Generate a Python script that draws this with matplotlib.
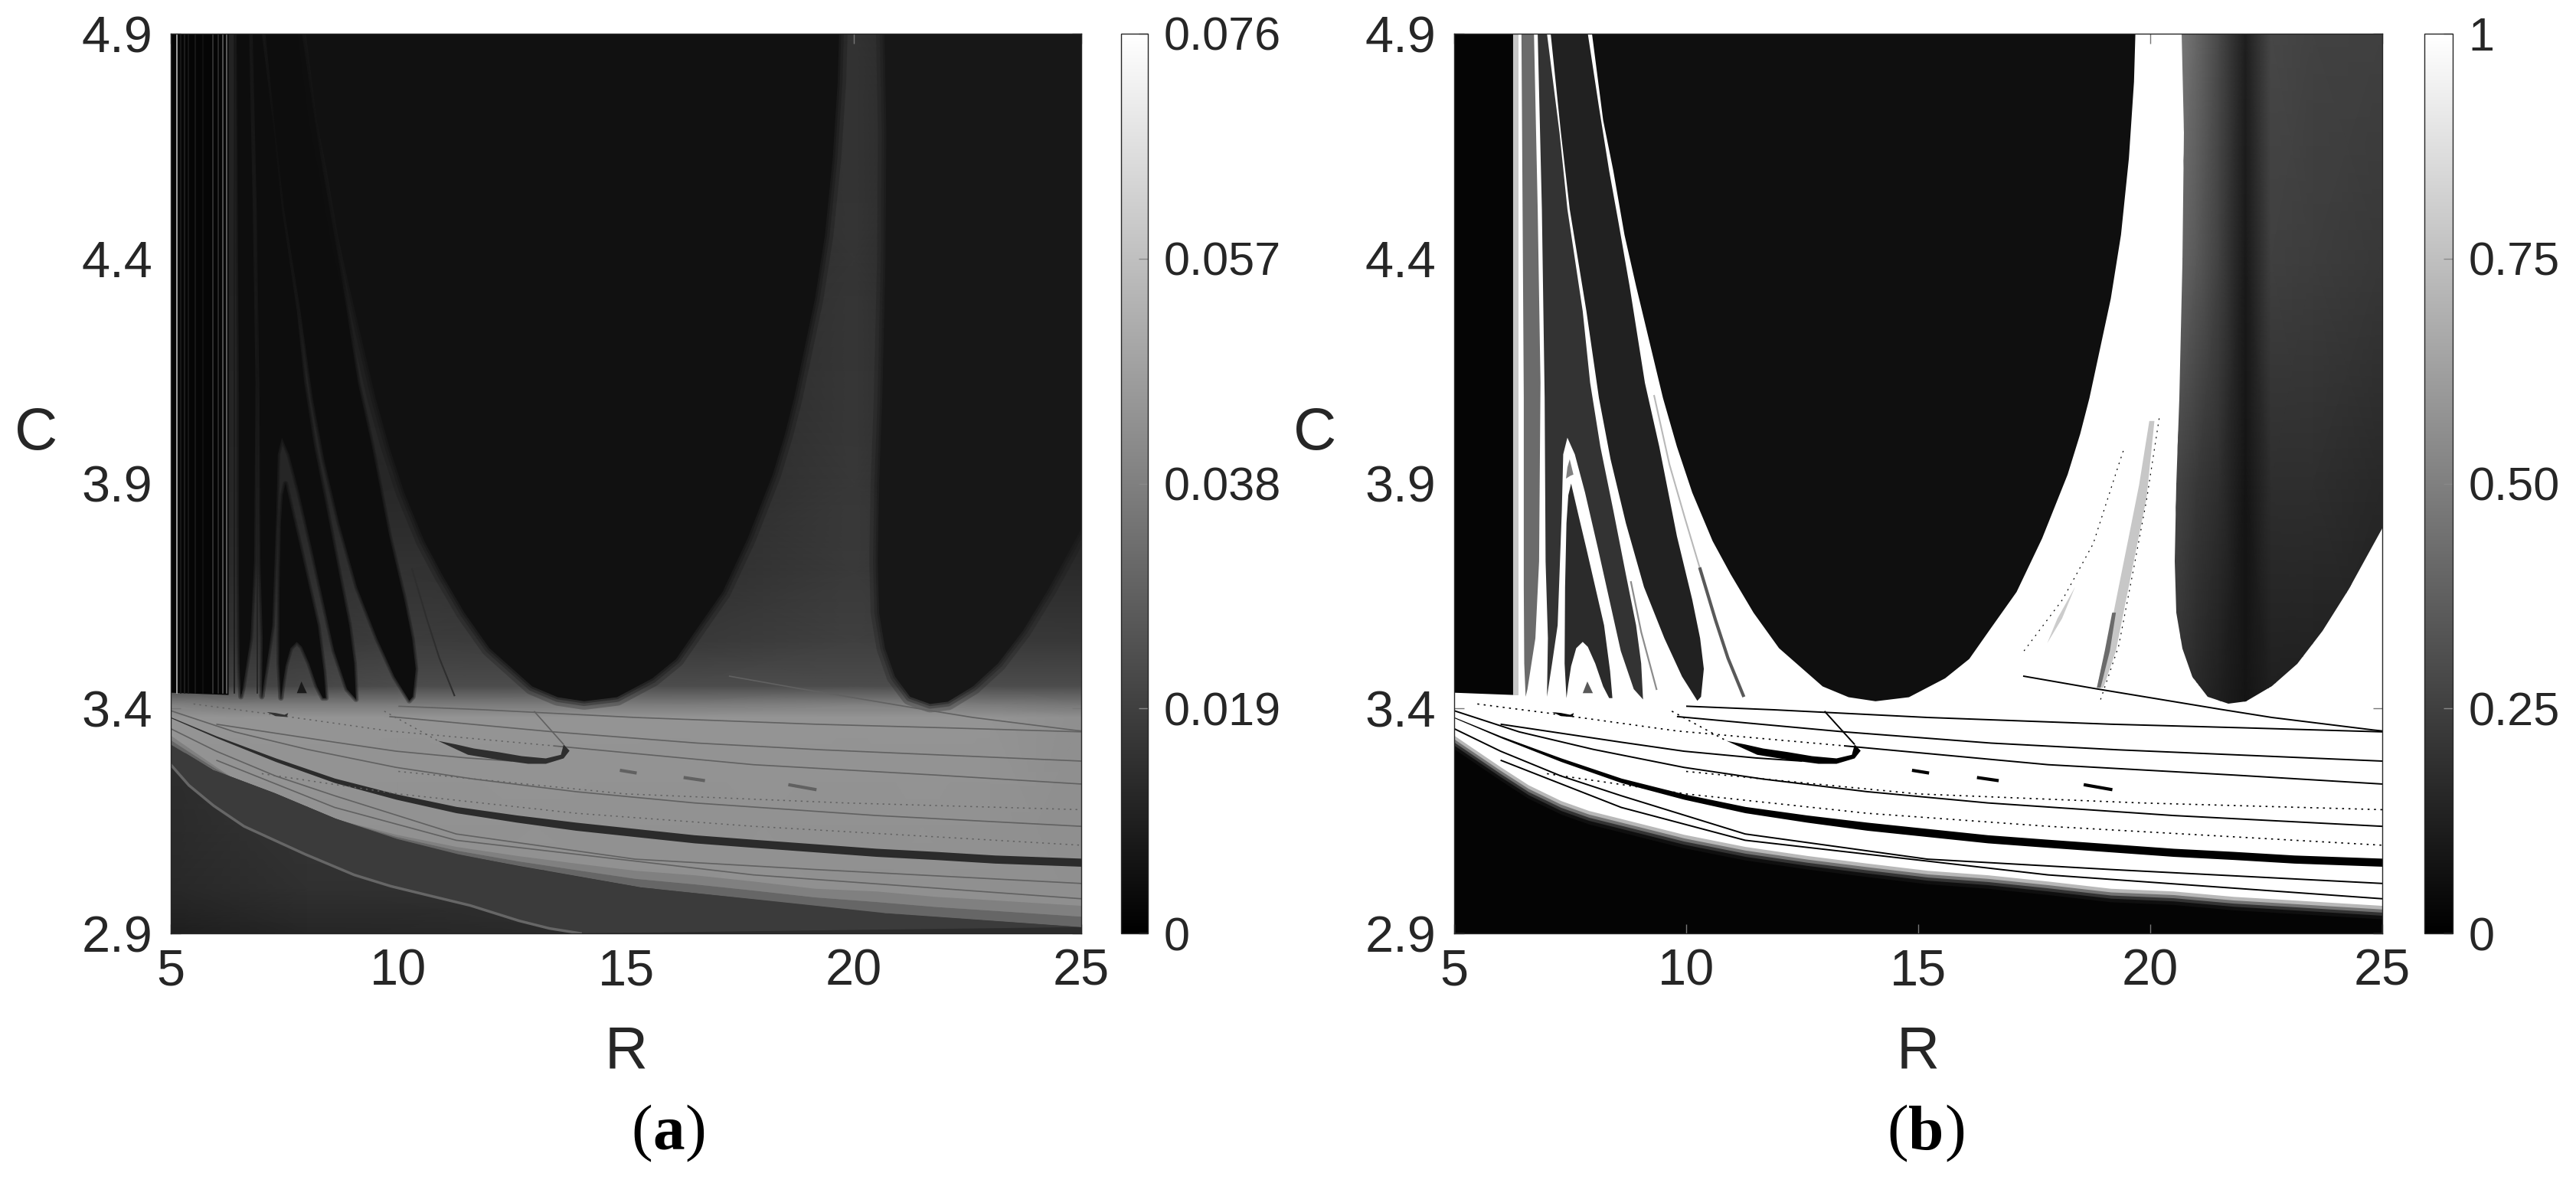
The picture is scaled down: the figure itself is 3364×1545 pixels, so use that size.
import numpy as np
import matplotlib
matplotlib.use("Agg")
import matplotlib.pyplot as plt
from matplotlib.cm import ScalarMappable
from matplotlib.colors import Normalize
from matplotlib.patches import Polygon

plt.rcParams['font.family'] = ['Liberation Sans', 'DejaVu Sans']
TXT = '#262626'

# ---- tick labels
X_TICKS = [5, 10, 15, 20, 25]
Y_TICKS = [2.9, 3.4, 3.9, 4.4, 4.9]
CB_A_TICKS = [0, 0.019, 0.038, 0.057, 0.076]
CB_A_LABELS = ['0', '0.019', '0.038', '0.057', '0.076']
CB_B_TICKS = [0, 0.25, 0.5, 0.75, 1]
CB_B_LABELS = ['0', '0.25', '0.50', '0.75', '1']

# ---- regions, (R, C) outlines
BIG_U = [(7.97, 4.9), (8.21, 4.708), (8.43, 4.595), (8.67, 4.453), (8.92, 4.339), (9.5, 4.09),
         (9.8, 3.982), (10.13, 3.88), (10.57, 3.772), (10.96, 3.698), (11.45, 3.613), (12.0, 3.534),
         (12.94, 3.449), (13.5, 3.425), (14.08, 3.416), (14.8, 3.425), (15.58, 3.467), (16.1, 3.51),
         (16.57, 3.579), (17.12, 3.659), (17.67, 3.778), (18.22, 3.92), (18.49, 4.01), (18.69, 4.09),
         (19.15, 4.311), (19.37, 4.453), (19.54, 4.623), (19.65, 4.793), (19.68, 4.9)]
RIGHT_WEDGE = [(20.68, 4.9), (20.72, 4.68), (20.7, 4.39), (20.63, 4.09), (20.56, 3.897), (20.53, 3.727),
               (20.56, 3.613), (20.69, 3.534), (20.91, 3.471), (21.24, 3.426), (21.68, 3.41), (22.07, 3.415),
               (22.62, 3.449), (23.17, 3.5), (23.72, 3.573), (24.27, 3.664), (24.82, 3.766), (25, 3.8), (25, 4.9)]
LEFT_BLOCK = [(5, 4.9), (6.27, 4.9), (6.27, 3.43), (5, 3.435)]
NOISY_STRIP = [(6.27, 4.9), (6.38, 4.9), (6.38, 3.43), (6.27, 3.43)]
WEDGE_1 = [(6.45, 4.9), (6.5, 4.09), (6.5, 3.67), (6.51, 3.5), (6.54, 3.426), (6.58, 3.443), (6.75, 3.556),
           (6.83, 3.727), (6.86, 4.124), (6.8, 4.51), (6.72, 4.9)]
WEDGE_2 = [(6.8, 4.9), (6.89, 4.51), (6.95, 4.09), (6.97, 3.727), (7.02, 3.556), (7.0, 3.426), (7.11, 3.5),
           (7.23, 3.585), (7.28, 3.727), (7.32, 3.84), (7.35, 3.965), (7.44, 4.002), (7.6, 3.965), (7.82, 3.88),
           (8.1, 3.755), (8.37, 3.63), (8.59, 3.528), (8.87, 3.443), (9.07, 3.42), (9.03, 3.5), (8.92, 3.585),
           (8.7, 3.698), (8.43, 3.84), (8.15, 3.982), (7.93, 4.124), (7.77, 4.283), (7.44, 4.51), (7.27, 4.68), (7.0, 4.9)]
WEDGE_3 = [(7.52, 3.9), (7.68, 3.829), (7.85, 3.755), (8.04, 3.67), (8.23, 3.585), (8.36, 3.483), (8.41, 3.423),
           (8.34, 3.423), (8.21, 3.449), (8.04, 3.5), (7.88, 3.537), (7.77, 3.548), (7.63, 3.534), (7.52, 3.494),
           (7.46, 3.454), (7.42, 3.423), (7.38, 3.5), (7.39, 3.67), (7.42, 3.812), (7.46, 3.874)]
WEDGE_5 = [(7.08, 4.9), (7.3, 4.68), (7.49, 4.51), (7.85, 4.283), (8.12, 4.09), (8.37, 3.954), (8.7, 3.812),
           (9.09, 3.67), (9.53, 3.556), (9.91, 3.471), (10.24, 3.417), (10.32, 3.426), (10.38, 3.488), (10.3, 3.556),
           (10.13, 3.642), (9.8, 3.783), (9.42, 3.982), (9.11, 4.124), (8.78, 4.339), (8.54, 4.481), (8.34, 4.595),
           (8.12, 4.737), (7.88, 4.9)]
ARCH_CORE = [(7.49, 3.954), (7.57, 3.92), (7.5, 3.917), (7.41, 3.911), (7.44, 3.936)]
ARCH_SPOT = [(7.87, 3.46), (7.77, 3.434), (7.99, 3.434)]
HOOK = [(10.87, 3.328), (11.53, 3.297), (12.19, 3.286), (12.85, 3.277), (13.24, 3.277), (13.63, 3.289), (13.76, 3.306),
        (13.63, 3.32), (13.57, 3.297), (13.24, 3.289), (12.71, 3.294), (12.19, 3.303), (11.66, 3.311), (11.27, 3.32)]
SMALL_HOOK = [(7.11, 3.392), (7.3, 3.383), (7.55, 3.381), (7.58, 3.39), (7.5, 3.386), (7.3, 3.39)]
STREAKS = [[(14.9, 3.262), (15.2, 3.257)], [(16.3, 3.246), (16.7, 3.24)], [(18.6, 3.23), (19.15, 3.22)]]
GREY_FAN = [(18.85, 3.446), (19.1, 3.556), (19.32, 3.67), (19.54, 3.783), (19.76, 3.897), (19.98, 4.039),
            (20.09, 4.039), (19.92, 3.868), (19.7, 3.755), (19.48, 3.642), (19.26, 3.528), (18.99, 3.446)]
GREY_FAN_LOW = [(18.85, 3.446), (19.02, 3.528), (19.18, 3.613), (19.26, 3.613), (19.13, 3.528), (18.93, 3.446)]
GREY_FAN_2 = [(17.78, 3.545), (18.0, 3.6), (18.38, 3.67), (18.1, 3.6)]

# lower edge of the bright zone (panel b) and of the smooth band (panel a)
EDGE_R = [5, 5.5, 6.0, 6.6, 7.3, 7.9, 8.6, 9.95, 11.27, 12.6, 13.9, 15.2, 16.5, 17.8, 19.15, 20.5, 21.8, 23.1, 25]
EDGE_C = [3.34, 3.305, 3.27, 3.23, 3.195, 3.173, 3.155, 3.12, 3.093, 3.073, 3.056, 3.04, 3.03, 3.016, 3.0, 2.994, 2.982, 2.974, 2.962]
BAND_R = [5, 5.94, 7.28, 8.62, 9.97, 11.31, 12.65, 15.33, 18.0, 20.7, 25]
BAND_C = [3.32, 3.263, 3.212, 3.155, 3.11, 3.076, 3.049, 3.002, 2.974, 2.945, 2.914]
ARC_R = [5, 5.4, 5.94, 6.61, 7.28, 7.95, 9.03, 9.83, 10.64, 11.58, 12.65, 13.32, 14.0]
ARC_C = [3.275, 3.229, 3.184, 3.138, 3.107, 3.076, 3.03, 3.005, 2.985, 2.962, 2.928, 2.911, 2.9]

# thick dark stripe
STRIPE_R = [5, 6, 7.3, 8.6, 9.95, 11.27, 12.6, 13.9, 15.2, 16.5, 17.8, 19.15, 20.5, 21.8, 23.1, 25]
STRIPE_UP = [3.381, 3.339, 3.29, 3.245, 3.21, 3.182, 3.163, 3.147, 3.133, 3.119, 3.109, 3.099, 3.089, 3.082, 3.074, 3.067]
STRIPE_LOW = [3.379, 3.335, 3.282, 3.235, 3.198, 3.168, 3.147, 3.129, 3.115, 3.101, 3.091, 3.081, 3.071, 3.064, 3.056, 3.049]

# thin dark curves
SOLID_LINES = [
    [(10.0, 3.405), (11.9, 3.397), (15.2, 3.38), (19.15, 3.365), (22.0, 3.357), (25, 3.348)],
    [(9.8, 3.382), (13.4, 3.348), (16.57, 3.323), (19.32, 3.308), (25, 3.283)],
    [(13.4, 3.317), (17.8, 3.275), (21.8, 3.252), (25, 3.232)],
    [(6, 3.365), (7.3, 3.345), (8.6, 3.325), (9.95, 3.305), (11.5, 3.29), (12.5, 3.283)],
    [(5, 3.395), (6.4, 3.348), (8, 3.309), (9.95, 3.269), (11.66, 3.243), (13.9, 3.215), (16.5, 3.19), (20.5, 3.162), (25, 3.138)],
    [(5, 3.355), (6, 3.305), (7.3, 3.25), (8.6, 3.206), (11.27, 3.121), (15.2, 3.065), (19.15, 3.042), (25, 3.011)],
    [(6, 3.285), (8.6, 3.18), (11.27, 3.107), (17.8, 3.03), (25, 2.977)],
    [(17.26, 3.472), (18.82, 3.444), (21.52, 3.398), (22.62, 3.38), (24.82, 3.352), (25, 3.35)],
    [(12.98, 3.394), (13.63, 3.32)],
]
DOTTED_LINES = [
    [(5.5, 3.41), (7, 3.39), (9.8, 3.35), (13.4, 3.317)],
    [(7, 3.255), (10, 3.21), (13.9, 3.167), (17.8, 3.138), (25, 3.096)],
    [(10, 3.26), (15, 3.21), (19.8, 3.19), (25, 3.175)],
    [(9.69, 3.394), (10.87, 3.328)],
]
FAN_DOTS = [
    [(18.93, 3.42), (19.32, 3.539), (19.65, 3.715), (19.92, 3.863), (20.2, 4.05)],
    [(17.28, 3.528), (18.11, 3.642), (18.77, 3.766), (19.32, 3.942), (19.43, 3.976)],
]
FAN_LINE_UP = [(9.31, 4.095), (9.64, 3.942), (9.97, 3.824), (10.3, 3.71)]
FAN_LINE_LOW = [(10.3, 3.71), (10.63, 3.597), (10.9, 3.512), (11.23, 3.429)]
FAN_LINE_2 = [(8.81, 3.681), (9.03, 3.57), (9.36, 3.443)]

# brightness tables (fraction of the colour scale)
FAN_R = [5, 6.3, 10, 16, 20, 23, 25]
FAN_C = [2.9, 3.38, 3.41, 3.45, 3.55, 3.7, 3.9, 4.4, 4.9]
FAN_A = [[.56, .56, .56, .56, .56, .56, .56],
         [.58, .58, .58, .58, .58, .58, .56],
         [.50, .48, .48, .48, .50, .48, .46],
         [.26, .26, .30, .30, .30, .30, .30],
         [.18, .20, .24, .22, .25, .22, .22],
         [.15, .17, .20, .18, .23, .17, .17],
         [.14, .15, .16, .16, .22, .12, .12],
         [.13, .14, .14, .14, .21, .10, .10],
         [.13, .14, .14, .14, .20, .10, .10]]
WEDGE_R = [20.5, 21, 21.5, 22.05, 22.6, 23.5, 25]
WEDGE_C = [3.4, 3.9, 4.4, 4.9]
WEDGE_B = [[.20, .16, .12, .08, .12, .12, .12],
           [.28, .22, .18, .08, .18, .18, .16],
           [.42, .35, .25, .10, .25, .24, .22],
           [.50, .40, .28, .12, .28, .26, .25]]
LOW_R = [5, 8, 14, 25]
LOW_C = [2.9, 3.0, 3.3]
LOW_A = [[.12, .15, .17, .17],
         [.16, .19, .19, .19],
         [.18, .22, .22, .22]]

# vertical streaks of panel a at small R
STREAK_R = [5.14, 5.22, 5.31, 5.39, 5.53, 5.7, 5.93, 6.04, 6.15, 6.22, 6.4, 6.55, 6.9]
STREAK_V = [.72, .10, .13, .10, .10, .07, .22, .18, .36, .42, .10, .12, .13]


def grey(v):
    return str(v)


def poly(ax, pts, v, z, soft=()):
    p = Polygon(pts, closed=True, fc=grey(v), ec='none', zorder=z)
    ax.add_patch(p)
    # blurred edge for the dim panel
    for lw, a in soft:
        ax.add_patch(Polygon(pts, closed=True, fill=False, ec=grey(v), lw=lw, alpha=a, zorder=z, joinstyle='round'))
    return p


def mesh(ax, r, c, v, z, clip=None):
    m = ax.pcolormesh(r, c, np.array(v), cmap='gray', vmin=0, vmax=1, shading='gouraud', zorder=z)
    if clip is not None:
        m.set_clip_path(clip)
    return m


def curves(ax, col, lw_solid, lw_dot):
    for pts in SOLID_LINES:
        x, y = zip(*pts)
        ax.plot(x, y, color=col, lw=lw_solid, zorder=8, solid_capstyle='butt')
    for pts in DOTTED_LINES:
        x, y = zip(*pts)
        ax.plot(x, y, color=col, lw=lw_dot, ls=(0, (1.5, 3.5)), zorder=8)
    for pts in STREAKS:
        x, y = zip(*pts)
        ax.plot(x, y, color=col, lw=3, zorder=8)


def draw_a(ax):
    mesh(ax, FAN_R, FAN_C, FAN_A, 1)
    poly(ax, LEFT_BLOCK, .02, 2)
    for r, v in zip(STREAK_R, STREAK_V):
        ax.plot([r, r], [3.435, 4.9], color=grey(v), lw=1.2, zorder=3)
    for pts in [WEDGE_1, WEDGE_2, WEDGE_3, WEDGE_5]:
        poly(ax, pts, .05, 4, soft=[(5, .3), (2.5, .4)])
    poly(ax, BIG_U, .065, 4, soft=[(16, .25), (9, .3), (4, .4)])
    poly(ax, RIGHT_WEDGE, .09, 4, soft=[(16, .25), (9, .3), (4, .4)])
    poly(ax, ARCH_SPOT, .1, 5)

    # smooth bands under the speckled zone
    band = np.interp(EDGE_R, BAND_R, BAND_C)
    mid = (np.array(EDGE_C) + band) / 2
    ax.fill_between(EDGE_R, mid, EDGE_C, color=grey(.5), lw=0, zorder=5)
    ax.fill_between(EDGE_R, band, mid, color=grey(.4), lw=0, zorder=5)
    under = list(zip(BAND_R, BAND_C)) + [(25, 2.9), (5, 2.9)]
    clip = Polygon(under, closed=True, transform=ax.transData)
    mesh(ax, LOW_R, LOW_C, LOW_A, 6, clip=clip)
    arc_top = list(zip(BAND_R, BAND_C)) + list(zip(ARC_R, ARC_C))[::-1]
    poly(ax, arc_top, .23, 6)
    ax.plot(ARC_R, ARC_C, color=grey(.4), lw=2.5, zorder=7)

    ax.fill_between(STRIPE_R, STRIPE_LOW, STRIPE_UP, color=grey(.17), lw=0, zorder=8)
    curves(ax, grey(.38), 1.2, 1.1)
    poly(ax, HOOK, .18, 9)
    poly(ax, SMALL_HOOK, .2, 9)
    ax.plot(*zip(*FAN_LINE_LOW), color=grey(.18), lw=1.5, zorder=5)


def draw_b(ax):
    ax.set_facecolor(grey(.015))
    # soft lower rim of the bright zone
    for d, v in zip([.03, .022, .015, .008], [.06, .2, .45, .72]):
        ax.fill_between(EDGE_R, np.array(EDGE_C) - d, 4.9, color=grey(v), lw=0, zorder=1)
    ax.fill_between(EDGE_R, EDGE_C, 4.9, color='white', lw=0, zorder=1)

    poly(ax, LEFT_BLOCK, .02, 2)
    poly(ax, NOISY_STRIP, .78, 2)
    poly(ax, WEDGE_1, .42, 3)
    poly(ax, WEDGE_2, .2, 3)
    poly(ax, WEDGE_3, .17, 3)
    poly(ax, WEDGE_5, .13, 3)
    poly(ax, ARCH_CORE, .5, 3)
    poly(ax, ARCH_SPOT, .35, 3)
    poly(ax, BIG_U, .06, 3)

    clip = Polygon(RIGHT_WEDGE, closed=True, transform=ax.transData)
    mesh(ax, WEDGE_R, WEDGE_C, WEDGE_B, 3, clip=clip)

    poly(ax, GREY_FAN, .78, 4)
    poly(ax, GREY_FAN_LOW, .42, 4)
    poly(ax, GREY_FAN_2, .8, 4)
    for pts in FAN_DOTS:
        ax.plot(*zip(*pts), color='black', lw=.9, ls=(0, (1.5, 5)), zorder=5)
    ax.plot(*zip(*FAN_LINE_UP), color=grey(.72), lw=1.5, zorder=5)
    ax.plot(*zip(*FAN_LINE_LOW), color=grey(.35), lw=3, zorder=5)
    ax.plot(*zip(*FAN_LINE_2), color=grey(.55), lw=1.6, zorder=5)

    ax.fill_between(STRIPE_R, STRIPE_LOW, STRIPE_UP, color='black', lw=0, zorder=8)
    curves(ax, 'black', 1.4, 1.2)
    poly(ax, HOOK, 0, 9)
    poly(ax, SMALL_HOOK, 0, 9)


W, H = 3364, 1545
fig = plt.figure(figsize=(W / 100, H / 100), dpi=100)


def box(x0, x1, y0=44, y1=1219):
    return [x0 / W, 1 - y1 / H, (x1 - x0) / W, (y1 - y0) / H]


panels = [
    (box(223, 1412), box(1464, 1499), draw_a, 0.076, CB_A_TICKS, CB_A_LABELS, 47, '(a)', 852, 894),
    (box(1899, 3111), box(3166, 3203), draw_b, 1, CB_B_TICKS, CB_B_LABELS, 1717, '(b)', 2492, 2539),
]
for rect, cb_rect, draw, top, ticks, labels, c_x, tag, tag_x, tag_end in panels:
    ax = fig.add_axes(rect)
    draw(ax)
    ax.set_xlim(5, 25)
    ax.set_ylim(2.9, 4.9)
    ax.set_xticks(X_TICKS)
    ax.set_yticks(Y_TICKS)
    ax.set_yticklabels(['%.1f' % v for v in Y_TICKS])
    ax.tick_params(direction='in', length=9, width=1, color='#777777', labelsize=48,
                   labelcolor=TXT, top=True, right=True, pad=17)
    ax.tick_params(axis='x', pad=14)
    for s in ax.spines.values():
        s.set_color(TXT)
        s.set_linewidth(1)
        s.set_zorder(20)
    rect_mid = rect[0] + rect[2] / 2
    fig.text(rect_mid, 1 - 1374 / H, 'R', fontsize=56, color=TXT, ha='center', va='center')
    fig.text(c_x / W, 1 - 566 / H, 'C', fontsize=56, color=TXT, ha='center', va='center')
    fig.text(tag_x / W, 1 - 1481 / H, tag[0], fontsize=60, family='Liberation Serif', color='black', ha='right', va='center')
    fig.text(tag_x / W, 1 - 1481 / H, tag[1], fontsize=60, family='Liberation Serif', weight='bold', color='black', ha='left', va='center')
    fig.text(tag_end / W, 1 - 1481 / H, tag[2], fontsize=60, family='Liberation Serif', color='black', ha='left', va='center')

    cax = fig.add_axes(cb_rect)
    sm = ScalarMappable(Normalize(0, top), 'gray')
    cb = fig.colorbar(sm, cax=cax, ticks=ticks)
    cb.set_ticklabels(labels)
    cb.ax.tick_params(direction='in', length=9, width=1, color='#888888', labelsize=44, labelcolor=TXT, pad=15)
    cb.outline.set_edgecolor(TXT)
    cb.outline.set_linewidth(1)

fig.savefig('out.png', dpi=100, facecolor='white')
